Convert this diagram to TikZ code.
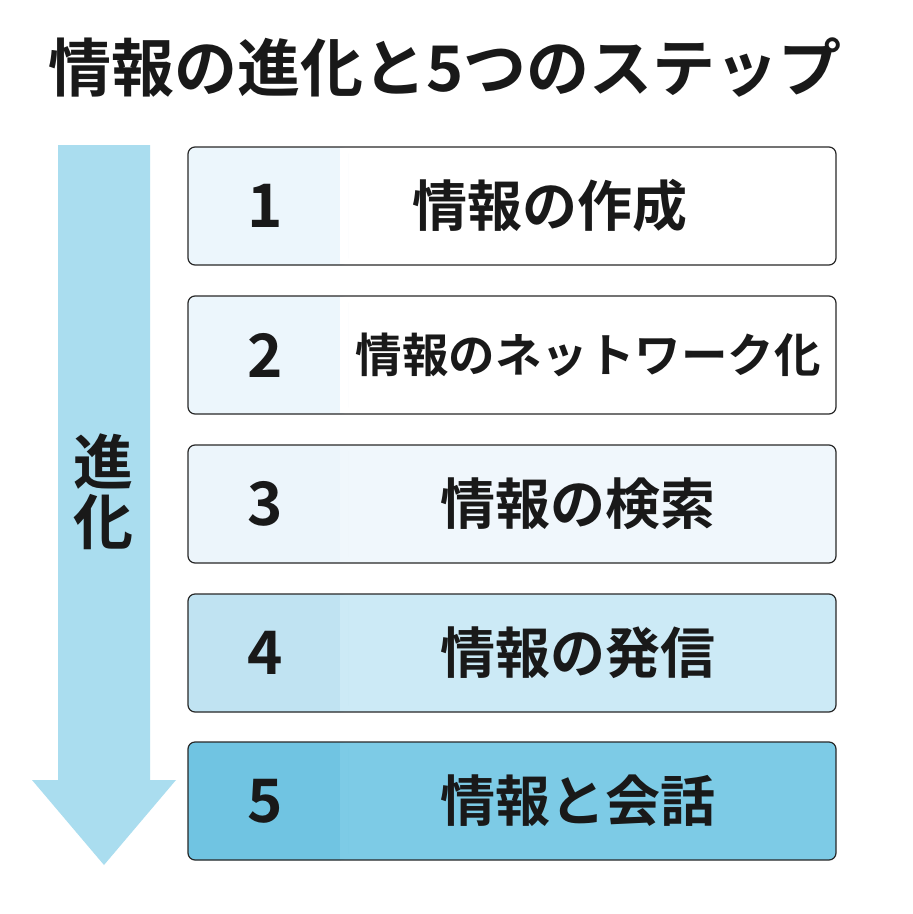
\documentclass[tikz,border=0pt]{standalone}
\usepackage{fontspec}
\setmainfont{Noto Sans CJK JP}[BoldFont={* Bold}]
\definecolor{arr}{RGB}{170,221,239}
\definecolor{edge}{RGB}{40,40,40}
\definecolor{a1}{RGB}{255,255,255}\definecolor{b1}{RGB}{236,246,252}
\definecolor{a3}{RGB}{240,247,252}\definecolor{b3}{RGB}{236,245,251}
\definecolor{a4}{RGB}{204,234,246}\definecolor{b4}{RGB}{192,227,242}
\definecolor{a5}{RGB}{125,203,230}\definecolor{b5}{RGB}{112,196,226}
\begin{document}
\begin{tikzpicture}[x=1pt,y=-1pt,
  box/.style={draw=edge,line width=1.2pt,rounded corners=7pt},
  num/.style={font=\fontsize{60}{64}\selectfont\bfseries,text=black!90},
  lab/.style={text=black!90}]
\useasboundingbox[fill=white] (0,0) rectangle (913,914);
\node[font=\fontsize{63}{68}\selectfont\bfseries,text=black!90] (title) at (445,68) {情報の進化と5つのステップ};
\fill[arr] (58,145) -- (150,145) -- (150,780) -- (176,780) -- (104,865) -- (32,780) -- (58,780) -- cycle;
\node[font=\fontsize{60}{64}\selectfont\bfseries,text=black!90,align=center] (ev) at (103,492) {進\\[-4pt]化};
\foreach \i/\yt/\fa/\fb/\t/\lx/\fs in {
 1/147/a1/b1/{情報の作成}/550/55,
 2/296/a1/b1/{情報のネットワーク化}/588/46.5,
 3/445/a3/b3/{情報の検索}/578/55,
 4/594/a4/b4/{情報の発信}/578/55,
 5/742/a5/b5/{情報と会話}/578/55}{
 \fill[\fa,rounded corners=7pt] (188,\yt) rectangle (836,\yt+118);
 \fill[\fb,rounded corners=7pt] (188,\yt) rectangle (348,\yt+118);
 \fill[\fa] (340,\yt+1) rectangle (348,\yt+117);
 \draw[box] (188,\yt) rectangle (836,\yt+118);
 \node[num] (n\i) at (265,\yt+59) {\i};
 \node[lab,font=\fontsize{\fs}{60}\selectfont\bfseries] (l\i) at (\lx,\yt+59) {\t};
}
\end{tikzpicture}
\end{document}
